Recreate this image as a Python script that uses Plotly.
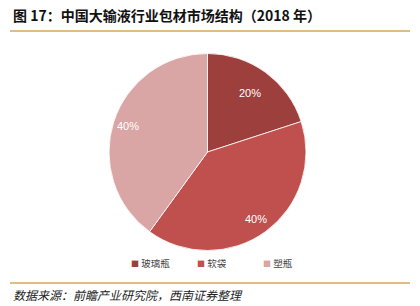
import math
import plotly.graph_objects as go

categories = ["玻璃瓶", "软袋", "塑瓶"]
values = [20, 40, 40]
colors = ["#9D3F3C", "#C0504D", "#D9A6A5"]
title_text = "图 17：中国大输液行业包材市场结构（2018 年）"
source_text = "数据来源：前瞻产业研究院，西南证券整理"

W, H = 420, 306
cx, cy, R = 207.5, 152, 98.5
label_radius = [0.74, 0.84, 0.85]  # fraction of pie radius for each label

fig = go.Figure(go.Pie(
    labels=categories,
    values=values,
    marker=dict(colors=colors, line=dict(color="white", width=0.8)),
    sort=False,
    direction="clockwise",
    rotation=0,
    textinfo="none",
    showlegend=False,
    hole=0,
    domain=dict(x=[(cx - R) / W, (cx + R) / W], y=[1 - (cy + R) / H, 1 - (cy - R) / H]),
))

CJK = "Noto Sans CJK SC"
annotations = [
    dict(text=f"<b>{title_text}</b>", x=11 / W, y=1 - 15 / H, xref="paper", yref="paper",
         xanchor="left", yanchor="middle", showarrow=False,
         font=dict(size=14, family=CJK, color="#111111")),
    dict(text=f"<i>{source_text}</i>", x=11 / W, y=1 - 294 / H, xref="paper", yref="paper",
         xanchor="left", yanchor="middle", showarrow=False,
         font=dict(size=12, family=CJK, color="#222222")),
]

# slice labels placed along each slice bisector
total = sum(values)
cum = 0
for v, fr in zip(values, label_radius):
    mid = (cum + v / 2) / total * 2 * math.pi
    cum += v
    px = cx + math.sin(mid) * R * fr
    py = cy - math.cos(mid) * R * fr
    annotations.append(dict(
        text=f"{round(v / total * 100)}%", x=px / W, y=1 - py / H, xref="paper", yref="paper",
        xanchor="center", yanchor="middle", showarrow=False,
        font=dict(size=11, family="Liberation Sans, Arial", color="white")))

legend_x = [129, 195, 261]
for name, col, lx in zip(categories, colors, legend_x):
    annotations.append(dict(
        text=f"<span style='color:{col};font-size:8px'>■</span> {name}",
        x=lx / W, y=1 - 263 / H, xref="paper", yref="paper",
        xanchor="left", yanchor="middle", showarrow=False,
        font=dict(size=9.5, family=CJK, color="#444444")))

shapes = [
    dict(type="line", xref="paper", yref="paper", x0=10 / W, x1=410 / W,
         y0=1 - 31 / H, y1=1 - 31 / H, line=dict(color="#D6A661", width=1.5)),
    dict(type="line", xref="paper", yref="paper", x0=10 / W, x1=410 / W,
         y0=1 - 283 / H, y1=1 - 283 / H, line=dict(color="#D6A661", width=1.5)),
]

fig.update_layout(
    width=W, height=H,
    margin=dict(l=0, r=0, t=0, b=0),
    paper_bgcolor="white",
    annotations=annotations,
    shapes=shapes,
)
fig.write_html("out.html")
